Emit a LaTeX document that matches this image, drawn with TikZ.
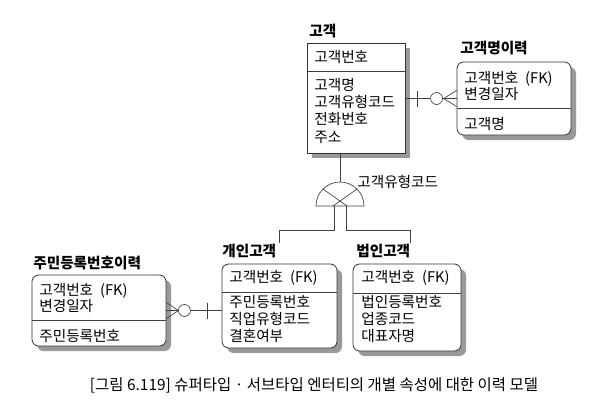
\documentclass[tikz,border=0pt]{standalone}
\usepackage{fontspec}
\setmainfont{Noto Sans CJK KR}
\usetikzlibrary{positioning,fit,calc}

\begin{document}
\begin{tikzpicture}[x=0.75pt, y=-0.75pt,
  every node/.style={font=\fontsize{11}{12.9}\selectfont},
  ent/.style={draw=black!80, line width=0.6pt, fill=white, inner sep=0pt,
              preaction={fill=black!40,
                         transform canvas={xshift=3.8pt, yshift=-3.8pt}}},
  dent/.style={ent, rounded corners=5pt},          % dependent entity
  etitle/.style={anchor=west, inner sep=0pt,
                 font=\fontsize{11}{12}\selectfont\bfseries},
  attr/.style={anchor=north west, align=left, inner sep=0pt},
  key/.style={anchor=west, inner sep=0pt},
  rel/.style={draw=black!75, line width=0.5pt},
]
\useasboundingbox (0,0) rectangle (600,419);

%% -- supertype ---------------------------------------------------------
\node[ent, fit={(307,43) (405,153)}] (cust) {};
\draw[rel] (cust.west |- 0,71) -- (cust.east |- 0,71);
\node[etitle] (custt) at (309,31) {고객};
\node[key]  (custk) at (314,57) {고객번호};
\node[attr] (custa) at (314,78) {고객명\\고객유형코드\\전화번호\\주소};

%% -- history of the supertype -----------------------------------------
\node[dent, fit={(457,62) (571,135)}] (custh) {};
\draw[rel] (custh.west |- 0,108) -- (custh.east |- 0,108);
\node[etitle] (custht) at (460,48) {고객명이력};
\node[attr, font=\fontsize{11}{12}\selectfont] (custhk) at (464,71) {고객번호\hspace{0.25em} (FK)\\변경일자};
\node[key]  (custha) at (464,124) {고객명};

%% -- subtypes ----------------------------------------------------------
\node[dent, fit={(222,264) (337,348)}] (pcust) {};
\draw[rel] (pcust.west |- 0,292) -- (pcust.east |- 0,292);
\node[etitle] (pcustt) at (222,251) {개인고객};
\node[key]  (pcustk) at (229,278) {고객번호\hspace{0.25em} (FK)};
\node[attr] (pcusta) at (229,295) {주민등록번호\\직업유형코드\\결혼여부};

\node[dent, fit={(353,264) (461,351)}] (ccust) {};
\draw[rel] (ccust.west |- 0,293) -- (ccust.east |- 0,293);
\node[etitle] (ccustt) at (356,251) {법인고객};
\node[key]  (ccustk) at (361,278) {고객번호\hspace{0.25em} (FK)};
\node[attr] (ccusta) at (361,295) {법인등록번호\\업종코드\\대표자명};

%% -- history of the subtype --------------------------------------------
\node[dent, fit={(32,275) (166,346)}] (ridh) {};
\draw[rel] (ridh.west |- 0,320) -- (ridh.east |- 0,320);
\node[etitle] (ridht) at (33,263) {주민등록번호이력};
\node[attr, font=\fontsize{11}{12}\selectfont] (ridhk) at (39,283) {고객번호\hspace{0.25em} (FK)\\변경일자};
\node[key]  (ridha) at (39,336) {주민등록번호};

%% -- one to zero-or-many: 고객 -> 고객명이력 ---------------------------
\draw[rel] (cust.east |- custh.west) -- (custh.west);
\draw[rel] ($(cust.east |- custh.west)+(12,-8)$) -- ++(0,16);
\draw[rel, fill=white] ($(custh.west)+(-20,0)$) circle[radius=6];
\draw[rel] ($(custh.west)+(0,-8)$) -- ($(custh.west)+(-13,0)$)
           -- ($(custh.west)+(0,8)$);

%% -- one to zero-or-many: 개인고객 -> 주민등록번호이력 -----------------
\draw[rel] (ridh.east) -- (pcust.west |- ridh.east);
\draw[rel] ($(pcust.west |- ridh.east)+(-14,-8)$) -- ++(0,16);
\draw[rel, fill=white] ($(ridh.east)+(18,0)$) circle[radius=6];
\draw[rel] ($(ridh.east)+(0,-8)$) -- ($(ridh.east)+(12,0)$)
           -- ($(ridh.east)+(0,8)$);

%% -- subtype symbol ----------------------------------------------------
\coordinate (sub) at (340,206);
\coordinate (pj) at (279,243);
\coordinate (cj) at (410,243);
\draw[rel] (cust.south -| sub) -- ($(sub)+(0,-24)$);
\draw[rel, fill=white] ($(sub)+(-24,0)$) arc[start angle=180, end angle=360, radius=24] -- cycle;
\draw[rel] ($(sub)+(-17,-17)$) -- ($(sub)+(7,0)$);
\draw[rel] ($(sub)+(17,-17)$) -- ($(sub)+(-7,0)$);
\node[key] (subl) at (357,182) {고객유형코드};
\draw[rel] ($(sub)+(-6,0)$) -- ++(0,24) -| (pj);
\draw[rel] ($(sub)+(6,0)$) -- ++(0,24) -| (cj);

%% -- caption -----------------------------------------------------------
\node[font=\fontsize{11.6}{12}\selectfont] (cap) at (314,385)
  {[그림 6.119] 슈퍼타입 · 서브타입 엔터티의 개별 속성에 대한 이력 모델};
\end{tikzpicture}
\end{document}
